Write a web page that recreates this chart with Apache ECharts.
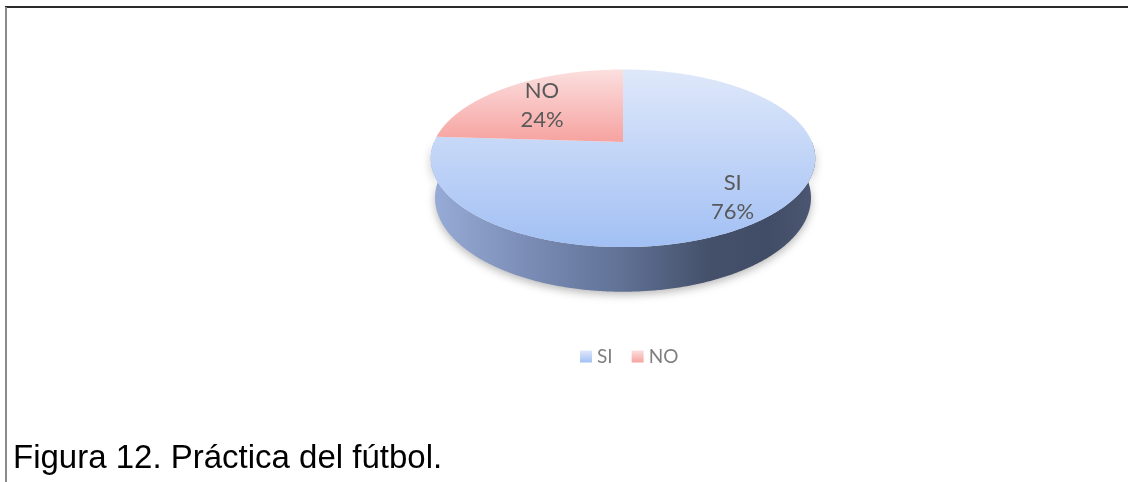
<!DOCTYPE html>
<html>
<head>
<meta charset="utf-8">
<script src="https://cdn.jsdelivr.net/npm/echarts@6/dist/echarts.min.js"></script>
<style>
  html, body { margin: 0; padding: 0; background: #ffffff; }
  #chart { width: 1128px; height: 482px; }
</style>
</head>
<body>
<div id="chart"></div>
<script>
// Survey answers: does the respondent play football?
const categories = ['SI', 'NO'];
const values = [76, 24];
const caption = 'Figura 12. Práctica del fútbol.';

// Slice palette (top face gradient: upper colour, lower colour)
const palette = {
  SI: ['#dfe8fa', '#a2c0f4'],
  NO: ['#fbdfdf', '#f6a3a0']
};

// 3D pie geometry (perspective projection of a tilted disk)
const CX = 623, CY = 142, R = 189;
const TILT = 27 * Math.PI / 180;
const DIST = 917;
const THICK = 0.236;      // wall height in radius units
const LABEL_R = 0.73;     // label distance from centre in radius units
const LABEL_SHIFT = [5, 5];

const total = values.reduce((a, b) => a + b, 0);

function proj(x, z, h) {
  const X = x * R, Y = h * R, Z = z * R;
  const U = Z * Math.sin(TILT) + Y * Math.cos(TILT);
  const W = Z * Math.cos(TILT) - Y * Math.sin(TILT);
  const s = DIST / (DIST + W);
  return [CX + X * s, CY - U * s];
}
function rim(phi, r, h) {
  return proj(r * Math.sin(phi), r * Math.cos(phi), h);
}
function arcPoints(a, b, r, h) {
  const n = Math.max(2, Math.ceil((b - a) / (Math.PI / 360)));
  const pts = [];
  for (let k = 0; k <= n; k++) pts.push(rim(a + (b - a) * k / n, r, h));
  return pts;
}

function sliceRange(i) {
  let start = 0;
  for (let k = 0; k < i; k++) start += values[k];
  const a = start / total * Math.PI * 2;
  const b = (start + values[i]) / total * Math.PI * 2;
  return [a, b];
}

function renderSlice(params, api) {
  const i = params.seriesIndex;
  const [a, b] = sliceRange(i);
  const cols = palette[categories[i]];
  const children = [];

  // visible front wall: part of the arc facing the viewer
  const wa = Math.max(a, Math.PI / 2), wb = Math.min(b, Math.PI * 3 / 2);
  if (wb > wa) {
    const topArc = arcPoints(wa, wb, 1, 0);
    const botArc = arcPoints(wa, wb, 1, -THICK).reverse();
    children.push({
      type: 'polygon',
      z2: 1,
      shape: { points: topArc.concat(botArc) },
      style: {
        fill: new echarts.graphic.LinearGradient(0, 0, 1, 0, [
          { offset: 0, color: '#97acd7' },
          { offset: 0.25, color: '#7b8db6' },
          { offset: 0.5, color: '#607195' },
          { offset: 0.72, color: '#45516b' },
          { offset: 0.88, color: '#414c66' },
          { offset: 1, color: '#4c5873' }
        ]),
        shadowBlur: 8,
        shadowOffsetY: 3,
        shadowColor: 'rgba(0,0,0,0.28)'
      }
    });
  }

  // top face
  const face = [proj(0, 0, 0)].concat(arcPoints(a, b, 1, 0));
  children.push({
    type: 'polygon',
    z2: 10,
    shape: { points: face },
    style: {
      fill: new echarts.graphic.LinearGradient(0, 0, 0, 1, [
        { offset: 0, color: cols[0] },
        { offset: 1, color: cols[1] }
      ])
    }
  });

  // data label: category and percentage
  const mid = (a + b) / 2;
  const lp = rim(mid, LABEL_R, 0);
  const pct = Math.round(api.value(0) / total * 100);
  children.push({
    type: 'text',
    z2: 20,
    style: {
      text: categories[i] + '\n' + pct + '%',
      x: lp[0] + LABEL_SHIFT[0],
      y: lp[1] + LABEL_SHIFT[1],
      align: 'center',
      verticalAlign: 'middle',
      fill: '#595959',
      fontSize: 22,
      fontFamily: 'Lato',
      lineHeight: 29
    }
  });

  return { type: 'group', children };
}

const chart = echarts.init(document.getElementById('chart'), null, { renderer: 'canvas' });

const series = categories.map((name, i) => ({
  type: 'custom',
  name,
  coordinateSystem: 'none',
  data: [[values[i]]],
  itemStyle: {
    color: new echarts.graphic.LinearGradient(0, 0, 0, 1, [
      { offset: 0, color: palette[name][0] },
      { offset: 1, color: palette[name][1] }
    ])
  },
  renderItem: renderSlice,
  silent: true
}));

chart.setOption({
  animation: false,
  backgroundColor: '#ffffff',
  legend: {
    data: categories,
    left: 575,
    top: 342,
    icon: 'rect',
    itemWidth: 12,
    itemHeight: 12,
    itemGap: 19,
    selectedMode: false,
    textStyle: { color: '#7f7f7f', fontSize: 19, fontFamily: 'Lato' }
  },
  graphic: [
    { type: 'rect', shape: { x: 5, y: 6, width: 1123, height: 2 }, style: { fill: '#2a2a2a' }, silent: true },
    { type: 'rect', shape: { x: 5, y: 7, width: 2, height: 475 }, style: { fill: '#8a8a8a' }, silent: true },
    {
      type: 'text',
      style: {
        text: caption,
        x: 13,
        y: 459,
        verticalAlign: 'middle',
        fill: '#000000',
        fontSize: 33,
        fontFamily: '"Liberation Sans", Arial, sans-serif'
      },
      silent: true
    }
  ],
  series
});
</script>
</body>
</html>
